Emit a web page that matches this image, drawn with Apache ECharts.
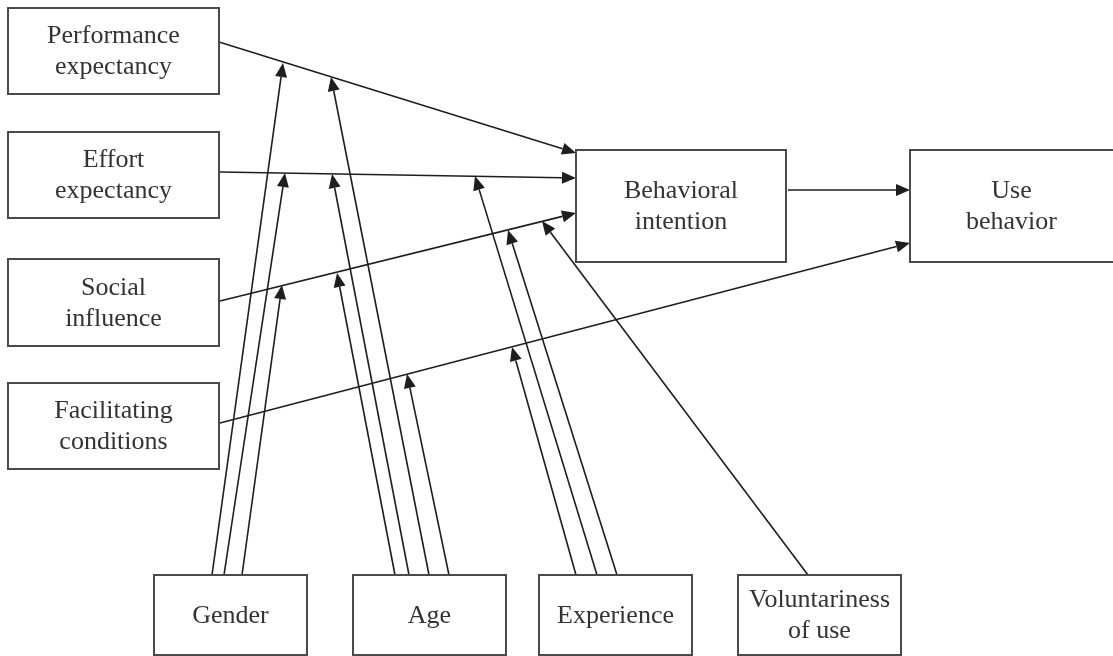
<!DOCTYPE html>
<html>
<head>
<meta charset="utf-8">
<title>UTAUT model</title>
<script src="https://cdn.jsdelivr.net/npm/echarts@6/dist/echarts.min.js"></script>
<style>
  html, body { margin: 0; padding: 0; background: #fff; }
  #diagram { width: 1113px; height: 656px; }
</style>
</head>
<body>
<div id="diagram"></div>
<script>
// boxes, in picture units (x right, y down)
const boxLabels = ['Performance\nexpectancy', 'Effort\nexpectancy', 'Social\ninfluence', 'Facilitating\nconditions',
  'Behavioral\nintention', 'Use\nbehavior', 'Gender', 'Age', 'Experience', 'Voluntariness\nof use'];
const boxLeft = [8, 8, 8, 8, 576, 910, 154, 353, 539, 738];
const boxRight = [219, 219, 219, 219, 786, 1118, 307, 506, 692, 901];
const boxTop = [8, 132, 259, 383, 150, 150, 575, 575, 575, 575];
const boxBottom = [94, 218, 346, 469, 262, 262, 655, 655, 655, 655];

// direct paths: start and arrow tip
const pathFrom = [[219, 42], [220, 172], [220, 301], [220, 423], [788, 190]];
const pathTo = [[576, 153], [576, 178], [576, 213], [910, 243], [910, 190]];

// moderating effects: start on the moderator box, arrow tip on a path
const modFrom = [
  [212, 575], [224, 575], [242, 575],              // gender
  [429, 575], [409, 575], [395, 575], [449, 575],  // age
  [597, 575], [617, 575], [576, 575],              // experience
  [808, 575]                                       // voluntariness
];
const modTo = [
  [283, 63], [285, 173], [282, 285],
  [331, 77], [332, 174], [337, 273], [407, 374],
  [475, 176], [508, 230], [512, 347],
  [542, 221]
];

const chart = echarts.init(document.getElementById('diagram'));

const boxData = boxLabels.map((name, i) => ({ name, value: [boxLeft[i], boxTop[i], boxRight[i], boxBottom[i]] }));
const arrowData = pathFrom.map((p, i) => [p[0], p[1], pathTo[i][0], pathTo[i][1]])
  .concat(modFrom.map((p, i) => [p[0], p[1], modTo[i][0], modTo[i][1]]));

function renderBox(params, api) {
  const a = api.coord([api.value(0), api.value(1)]);
  const b = api.coord([api.value(2), api.value(3)]);
  const w = api.getWidth();
  return {
    type: 'group',
    children: [
      { type: 'rect', shape: { x: a[0], y: a[1], width: b[0] - a[0], height: b[1] - a[1] },
        style: { fill: '#fff', stroke: '#4a4a4a', lineWidth: 2 } },
      // the use-behavior box runs off the right edge, so centre its text on the visible part
      { type: 'text', x: (a[0] + Math.min(b[0], w)) / 2, y: (a[1] + b[1]) / 2 + 1,
        style: { text: boxData[params.dataIndex].name, align: 'center', verticalAlign: 'middle',
          font: '26px "Liberation Serif"', lineHeight: 31, fill: '#333' } }
    ]
  };
}

function renderArrow(params, api) {
  const p1 = api.coord([api.value(0), api.value(1)]);
  const p2 = api.coord([api.value(2), api.value(3)]);
  const dx = p2[0] - p1[0], dy = p2[1] - p1[1];
  const len = Math.hypot(dx, dy);
  const ux = dx / len, uy = dy / len;
  const L = 14, W = 6;
  const bx = p2[0] - ux * L, by = p2[1] - uy * L;
  return {
    type: 'group',
    children: [
      { type: 'line', shape: { x1: p1[0], y1: p1[1], x2: bx, y2: by },
        style: { stroke: '#1e1e1e', lineWidth: 1.6 } },
      { type: 'polygon', shape: { points: [[p2[0], p2[1]], [bx - uy * W, by + ux * W], [bx + uy * W, by - ux * W]] },
        style: { fill: '#1e1e1e' } }
    ]
  };
}

chart.setOption({
  backgroundColor: '#fff',
  animation: false,
  grid: { left: 0, right: 0, top: 0, bottom: 0 },
  xAxis: { type: 'value', min: 0, max: 1113, show: false },
  yAxis: { type: 'value', min: 0, max: 656, inverse: true, show: false },
  series: [
    { type: 'custom', renderItem: renderArrow, data: arrowData, encode: { x: [0, 2], y: [1, 3] }, z: 2, clip: false },
    { type: 'custom', renderItem: renderBox, data: boxData, encode: { x: [0, 2], y: [1, 3] }, z: 3, clip: false }
  ]
});

window.onresize = () => chart.resize();
</script>
</body>
</html>
